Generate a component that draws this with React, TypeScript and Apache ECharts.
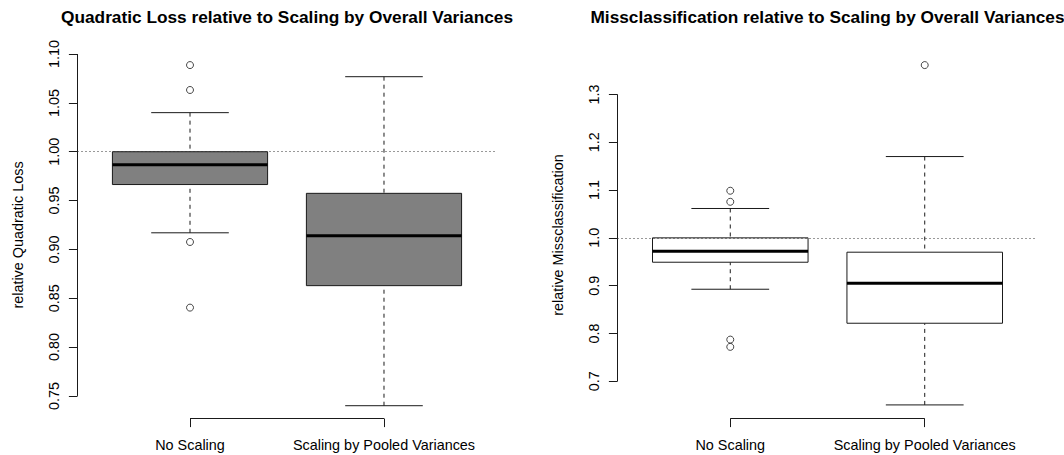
import { useEffect, useRef } from "react";
import * as echarts from "echarts";

const FONT = "'Liberation Sans', Arial, Helvetica, sans-serif";

const categories = ["No Scaling", "Scaling by Pooled Variances"];
const categoryPositions = [1, 2];

// [lower whisker, Q1, median, Q3, upper whisker]
const quadraticLossStats = [
  [0.917, 0.9664, 0.9867, 1.0, 1.04],
  [0.74, 0.8629, 0.914, 0.9574, 1.0768],
];
const quadraticLossOutliers = [
  [1, 1.0887],
  [1, 1.0632],
  [1, 0.9076],
  [1, 0.8404],
];
const quadraticLossTicks = [0.75, 0.8, 0.85, 0.9, 0.95, 1.0, 1.05, 1.1];

const missStats = [
  [0.8925, 0.949, 0.972, 1.0, 1.0614],
  [0.6506, 0.8214, 0.905, 0.97, 1.17],
];
const missOutliers = [
  [1, 1.0985],
  [1, 1.0754],
  [1, 0.7872],
  [1, 0.772],
  [2, 1.3613],
];
const missTicks = [0.7, 0.8, 0.9, 1.0, 1.1, 1.2, 1.3];

const referenceValue = 1;

const panels = [
  {
    title: "Quadratic Loss relative to Scaling by Overall Variances",
    yName: "relative Quadratic Loss",
    stats: quadraticLossStats,
    outliers: quadraticLossOutliers,
    ticks: quadraticLossTicks,
    decimals: 2,
    yMin: 0.7269,
    yMax: 1.1026,
    fill: "#808080",
    grid: { left: 77.5, top: 51.5, width: 419, height: 367 },
  },
  {
    title: "Missclassification relative to Scaling by Overall Variances",
    yName: "relative Missclassification",
    stats: missStats,
    outliers: missOutliers,
    ticks: missTicks,
    decimals: 1,
    yMin: 0.6222,
    yMax: 1.3897,
    fill: "#ffffff",
    grid: { left: 617.5, top: 51.5, width: 420, height: 367 },
  },
];

const renderBox = (fill: string) => (params: any, api: any) => {
  const x = api.value(0);
  const lo = api.value(1);
  const q1 = api.value(2);
  const med = api.value(3);
  const q3 = api.value(4);
  const hi = api.value(5);
  const c = (a: number, b: number) => api.coord([a, b]);
  const [bl, top] = c(x - 0.4, q3);
  const [br, bottom] = c(x + 0.4, q1);
  const [xc, ym] = c(x, med);
  const [, ylo] = c(x, lo);
  const [, yhi] = c(x, hi);
  const [cl] = c(x - 0.2, lo);
  const [cr] = c(x + 0.2, lo);
  const stroke = "#1a1a1a";
  return {
    type: "group",
    children: [
      { type: "line", shape: { x1: xc, y1: yhi, x2: xc, y2: top }, style: { stroke, lineWidth: 1, lineDash: [4, 4] } },
      { type: "line", shape: { x1: xc, y1: ylo, x2: xc, y2: bottom }, style: { stroke, lineWidth: 1, lineDash: [4, 4] } },
      { type: "line", shape: { x1: cl, y1: yhi, x2: cr, y2: yhi }, style: { stroke, lineWidth: 1 } },
      { type: "line", shape: { x1: cl, y1: ylo, x2: cr, y2: ylo }, style: { stroke, lineWidth: 1 } },
      { type: "rect", shape: { x: bl, y: top, width: br - bl, height: bottom - top }, style: { fill, stroke, lineWidth: 1 } },
      { type: "line", shape: { x1: bl, y1: ym, x2: br, y2: ym }, style: { stroke: "#000", lineWidth: 3 } },
    ],
  };
};

const renderFrame = (params: any, api: any) => {
  const cs = params.coordSys;
  const [x1, y1] = api.coord([api.value(0), api.value(1)]);
  const [x2, y2] = api.coord([api.value(2), api.value(3)]);
  const bottom = cs.y + cs.height;
  const left = cs.x;
  return {
    type: "group",
    children: [
      { type: "line", shape: { x1, y1: bottom, x2, y2: bottom }, style: { stroke: "#1a1a1a", lineWidth: 1 } },
      { type: "line", shape: { x1: left, y1, x2: left, y2 }, style: { stroke: "#1a1a1a", lineWidth: 1 } },
    ],
  };
};

export default function App() {
  const ref = useRef<HTMLDivElement>(null);
  useEffect(() => {
    if (!ref.current) return;
    const chart = echarts.init(ref.current, undefined, { renderer: "svg" });
    const grids: any[] = [];
    const xAxes: any[] = [];
    const yAxes: any[] = [];
    const series: any[] = [];
    const graphics: any[] = [];
    panels.forEach((p, i) => {
      grids.push({ ...p.grid, containLabel: false });
      xAxes.push({
        gridIndex: i,
        type: "value",
        min: 0.42,
        max: 2.58,
        axisLine: { show: false },
        splitLine: { show: false },
        axisTick: { show: true, customValues: categoryPositions, length: 8.6, lineStyle: { color: "#1a1a1a", width: 1 } },
        axisLabel: {
          customValues: categoryPositions,
          formatter: (v: number) => categories[Math.round(v) - 1],
          margin: 19,
          fontSize: 14.4,
          color: "#000",
          fontFamily: FONT,
        },
      });
      yAxes.push({
        gridIndex: i,
        type: "value",
        min: p.yMin,
        max: p.yMax,
        axisLine: { show: false },
        splitLine: { show: false },
        axisTick: { show: true, customValues: p.ticks, length: 8.6, lineStyle: { color: "#1a1a1a", width: 1 } },
        axisLabel: {
          customValues: p.ticks,
          rotate: 90,
          formatter: (v: number) => v.toFixed(p.decimals),
          margin: 17,
          fontSize: 14.4,
          color: "#000",
          fontFamily: FONT,
        },
        name: p.yName,
        nameLocation: "middle",
        nameGap: 53,
        nameTextStyle: { fontSize: 14.4, color: "#000", fontFamily: FONT },
      });
      series.push({
        type: "custom",
        xAxisIndex: i,
        yAxisIndex: i,
        renderItem: renderBox(p.fill),
        encode: { x: 0, y: [1, 2, 3, 4, 5] },
        data: p.stats.map((s, k) => [categoryPositions[k], ...s]),
        silent: true,
        z: 2,
      });
      series.push({
        type: "scatter",
        xAxisIndex: i,
        yAxisIndex: i,
        data: p.outliers,
        symbol: "circle",
        symbolSize: 7,
        itemStyle: { color: "rgba(255,255,255,0)", borderColor: "#1a1a1a", borderWidth: 1 },
        silent: true,
        z: 3,
        markLine: {
          silent: true,
          symbol: ["none", "none"],
          label: { show: false },
          lineStyle: { type: [1, 3], color: "#333", width: 1 },
          data: [{ yAxis: referenceValue }],
        },
      });
      series.push({
        type: "custom",
        xAxisIndex: i,
        yAxisIndex: i,
        renderItem: renderFrame,
        encode: { x: [0, 2], y: [1, 3] },
        data: [[categoryPositions[0], p.ticks[0], categoryPositions[categoryPositions.length - 1], p.ticks[p.ticks.length - 1]]],
        silent: true,
        clip: false,
        z: 4,
      });
      graphics.push({
        type: "text",
        x: p.grid.left + p.grid.width / 2,
        y: 17,
        style: {
          text: p.title,
          fontSize: 17.28,
          fontWeight: "bold",
          fontFamily: FONT,
          fill: "#000",
          align: "center",
          verticalAlign: "middle",
        },
      });
    });
    chart.setOption({
      animation: false,
      backgroundColor: "#fff",
      textStyle: { fontFamily: FONT },
      grid: grids,
      xAxis: xAxes,
      yAxis: yAxes,
      series,
      graphic: graphics,
    });
    return () => chart.dispose();
  }, []);
  return <div ref={ref} style={{ position: "fixed", left: 0, top: 0, width: 1064, height: 455 }} />;
}
